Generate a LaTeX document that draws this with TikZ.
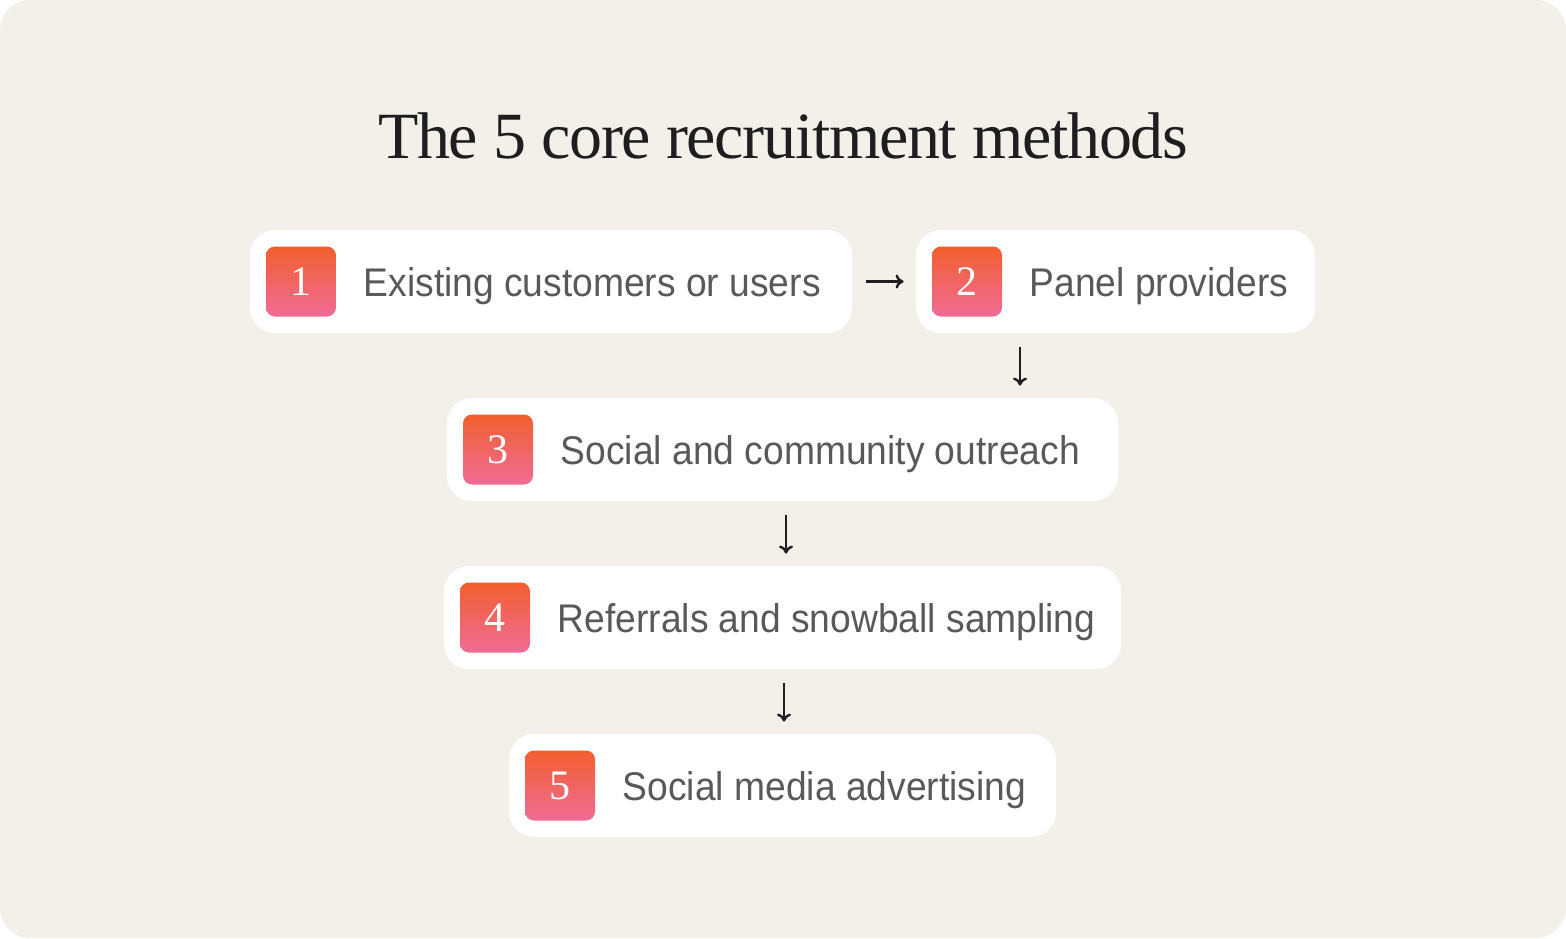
\documentclass[tikz,border=0pt]{standalone}
\usepackage{fontspec}
\setmainfont{Liberation Serif}
\setsansfont{Liberation Sans}
\newfontfamily\titlefont[LetterSpace=-2]{Liberation Serif}
\newfontfamily\bodyfont[FakeStretch=0.93]{Liberation Sans}
\usetikzlibrary{arrows.meta,positioning}
\definecolor{bgcolor}{HTML}{F3F0EA}
\definecolor{titlecolor}{HTML}{1E1E1E}
\definecolor{textcolor}{HTML}{595959}
\definecolor{badgetop}{HTML}{F25E2E}
\definecolor{badgemid}{HTML}{F48E3A}
\definecolor{badgebot}{HTML}{F06C96}

\begin{document}
\begin{tikzpicture}[
  x=0.5pt, y=-0.5pt,
  step box/.style={draw=none, fill=white, rounded corners=12.5pt,
               minimum height=51.5pt, inner sep=0pt},
  badge/.style={rounded corners=4.5pt, minimum width=35pt, minimum height=35pt,
                inner sep=0pt, top color=badgetop, middle color=badgemid,
                bottom color=badgebot,
                font=\fontsize{21}{21}\selectfont, text=white,
                text height=14pt, text depth=0pt},
  lbl/.style={font=\bodyfont\fontsize{20}{20}\selectfont, text=textcolor,
              inner sep=0pt, text height=14.5pt, text depth=0pt},
  arrow/.style={-{To[length=4pt,width=7pt]}, line width=1.2pt, titlecolor,
                shorten <=7pt, shorten >=6pt},
]
  \fill[bgcolor, rounded corners=15pt] (0,0) rectangle (1566,938);
  \useasboundingbox (0,0) rectangle (1566,938);

  % Title
  \node[anchor=base, font=\titlefont\fontsize{33}{33}\selectfont,
        text=titlecolor, inner sep=0pt] (title) at (783,158)
    {The 5 core recruitment methods};

  % Boxes
  \node[step box, minimum width=301pt]   (b1) at (551,281.5) {};
  \node[step box, minimum width=199.5pt] (b2) at (1115.5,281.5) {};
  \node[step box, minimum width=335.5pt] (b3) at (782.5,449.5) {};
  \node[step box, minimum width=338.5pt] (b4) at (782.5,617.5) {};
  \node[step box, minimum width=273.5pt] (b5) at (782.5,785.5) {};

  % Badges and labels
  \node[badge, right=8pt of b1.west] (n1) {1};
  \node[lbl, right=13.5pt of n1.east] (t1) {Existing customers or users};
  \node[badge, right=8pt of b2.west] (n2) {2};
  \node[lbl, right=13.5pt of n2.east] (t2) {Panel providers};
  \node[badge, right=8pt of b3.west] (n3) {3};
  \node[lbl, right=13.5pt of n3.east] (t3) {Social and community outreach};
  \node[badge, right=8pt of b4.west] (n4) {4};
  \node[lbl, right=13.5pt of n4.east] (t4) {Referrals and snowball sampling};
  \node[badge, right=8pt of b5.west] (n5) {5};
  \node[lbl, right=13.5pt of n5.east] (t5) {Social media advertising};

  % Arrows
  \draw[arrow] (b1.east) -- (b2.west);
  \draw[arrow] ([xshift=-47.75pt]b2.south) -- ([xshift=-47.75pt]b2.south |- b3.north);
  \draw[arrow] ([xshift=1.75pt]b3.south) -- ([xshift=1.75pt]b4.north);
  \draw[arrow] ([xshift=0.75pt]b4.south) -- ([xshift=0.75pt]b5.north);

\end{tikzpicture}
\end{document}
